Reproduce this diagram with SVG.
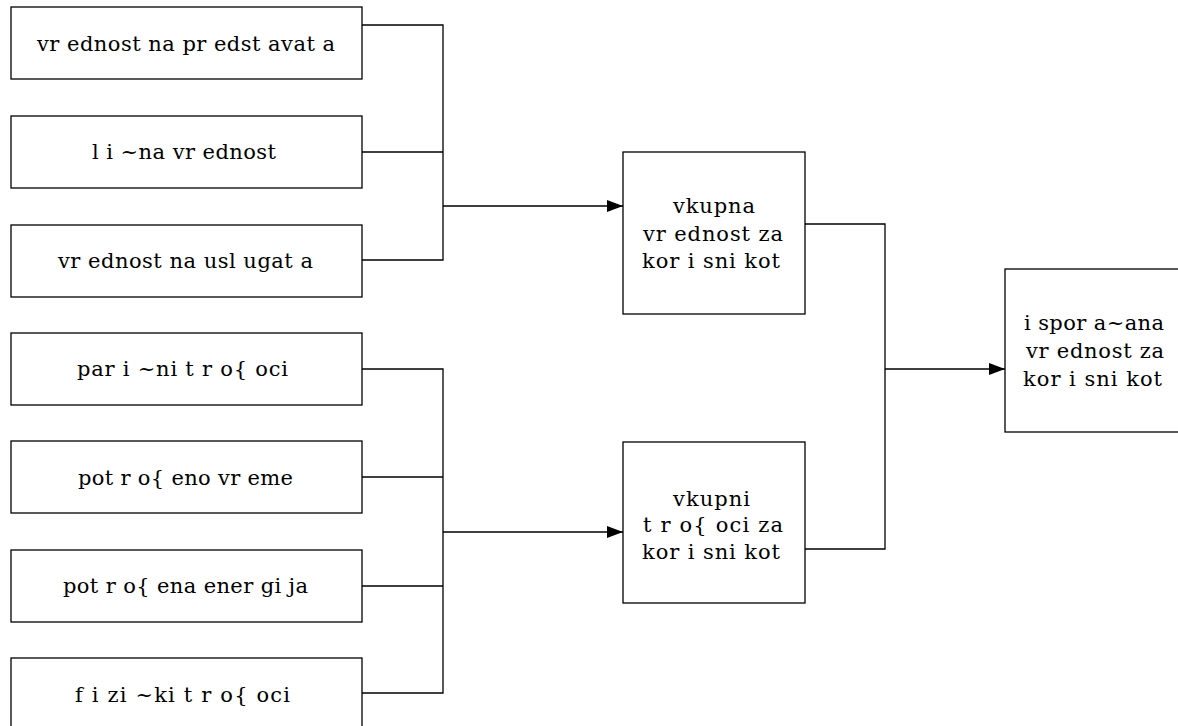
<svg xmlns="http://www.w3.org/2000/svg" width="1178" height="726" viewBox="0 0 1178 726">
  <defs>
    <style>
      .box { fill: #ffffff; stroke: #000000; stroke-width: 1.3; }
      .lbl { font-family: "DejaVu Serif", "Liberation Serif", serif; font-size: 21px; fill: #000000; }
      .wire { fill: none; stroke: #000000; stroke-width: 1.3; }
    </style>
    <marker id="arrow" viewBox="0 0 16 12" refX="16" refY="6" markerWidth="16" markerHeight="12" markerUnits="userSpaceOnUse" orient="auto">
      <path d="M0,0 L16,6 L0,12 Z" fill="#000000"/>
    </marker>
  </defs>
  <rect width="1178" height="726" fill="#ffffff"/>

  <!-- value inputs -->
  <g id="n-predstava">
    <rect class="box" x="11" y="7" width="351" height="72"/>
    <text class="lbl" x="37" y="51" textLength="298" lengthAdjust="spacing">vr ednost  na pr edst avat a</text>
  </g>
  <g id="n-licna">
    <rect class="box" x="11" y="116" width="351" height="72"/>
    <text class="lbl" x="92" y="159" textLength="184" lengthAdjust="spacing">l i ~na vr ednost</text>
  </g>
  <g id="n-usluga">
    <rect class="box" x="11" y="225" width="351" height="72"/>
    <text class="lbl" x="58" y="268" textLength="255" lengthAdjust="spacing">vr ednost  na usl ugat a</text>
  </g>

  <!-- cost inputs -->
  <g id="n-paricni">
    <rect class="box" x="11" y="333" width="351" height="72"/>
    <text class="lbl" x="77" y="376" textLength="211" lengthAdjust="spacing">par i ~ni  t r o{ oci</text>
  </g>
  <g id="n-vreme">
    <rect class="box" x="11" y="441" width="351" height="72"/>
    <text class="lbl" x="78" y="485" textLength="215" lengthAdjust="spacing">pot r o{ eno vr eme</text>
  </g>
  <g id="n-energija">
    <rect class="box" x="11" y="550" width="351" height="72"/>
    <text class="lbl" x="63" y="593" textLength="245" lengthAdjust="spacing">pot r o{ ena ener gi ja</text>
  </g>
  <g id="n-fizicki">
    <rect class="box" x="11" y="658" width="351" height="80"/>
    <text class="lbl" x="75" y="702" textLength="215" lengthAdjust="spacing">f i zi ~ki  t r o{ oci</text>
  </g>

  <!-- aggregates -->
  <g id="n-vkupna-vrednost">
    <rect class="box" x="623" y="152" width="182" height="162"/>
    <text class="lbl" x="673" y="213" textLength="82" lengthAdjust="spacing">vkupna</text>
    <text class="lbl" x="643" y="241" textLength="140" lengthAdjust="spacing">vr ednost  za</text>
    <text class="lbl" x="642" y="268" textLength="138" lengthAdjust="spacing">kor i sni kot</text>
  </g>
  <g id="n-vkupni-troshoci">
    <rect class="box" x="623" y="442" width="182" height="161"/>
    <text class="lbl" x="673" y="506" textLength="77" lengthAdjust="spacing">vkupni</text>
    <text class="lbl" x="643" y="532" textLength="140" lengthAdjust="spacing">t r o{ oci  za</text>
    <text class="lbl" x="642" y="559" textLength="138" lengthAdjust="spacing">kor i sni kot</text>
  </g>

  <!-- result -->
  <g id="n-isporacana">
    <rect class="box" x="1005" y="269" width="190" height="163"/>
    <text class="lbl" x="1024" y="330" textLength="140" lengthAdjust="spacing">i spor a~ana</text>
    <text class="lbl" x="1026" y="358" textLength="138" lengthAdjust="spacing">vr ednost  za</text>
    <text class="lbl" x="1023" y="386" textLength="139" lengthAdjust="spacing">kor i sni kot</text>
  </g>

  <!-- connectors -->
  <g id="connectors">
    <path class="wire" d="M362,25 H443 V260 H362 M362,152 H443"/>
    <path class="wire" d="M443,206 H623" marker-end="url(#arrow)"/>
    <path class="wire" d="M362,369 H443 V693 H362 M362,477 H443 M362,586 H443"/>
    <path class="wire" d="M443,532 H623" marker-end="url(#arrow)"/>
    <path class="wire" d="M805,224 H885 V549 H805"/>
    <path class="wire" d="M885,369 H1005" marker-end="url(#arrow)"/>
  </g>
</svg>
